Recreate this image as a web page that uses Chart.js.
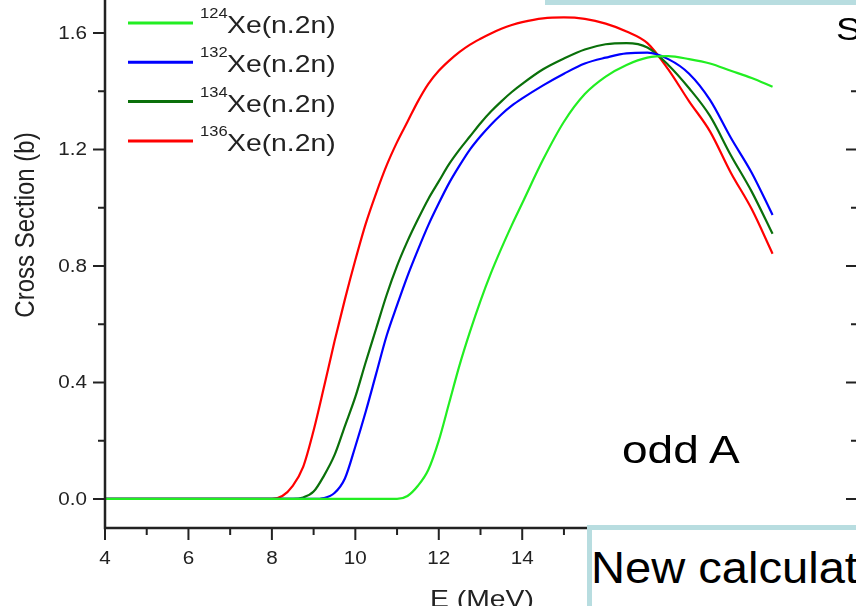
<!DOCTYPE html>
<html>
<head>
<meta charset="utf-8">
<script src="https://cdn.jsdelivr.net/npm/chart.js@4"></script>
<style>
  html, body { margin: 0; padding: 0; background: #fff; overflow: hidden; }
  #wrap { position: relative; width: 856px; height: 606px; overflow: hidden; font-family: "Liberation Sans", Arial, sans-serif; }
  #xs { position: absolute; left: 0; top: 0; }
  .slide { position: absolute; color: #000; white-space: nowrap; line-height: 1; transform-origin: 0 0; transform: scaleX(1.18); }
  .frame { position: absolute; border: 5px solid #b8dde0; background: #fff; }
</style>
</head>
<body>
<div id="wrap">
  <canvas id="xs" width="856" height="606"></canvas>
  <div class="frame" style="left:545px; top:-20px; width:400px; height:15px;"></div>
  <div class="slide" style="left:836px; top:13px; font-size:32px;">S</div>
  <div class="slide" style="left:622px; top:430px; font-size:39px;">odd A</div>
  <div class="frame" style="left:587px; top:525px; width:300px; height:120px;"></div>
  <div class="slide" style="left:591px; top:546px; font-size:44px; transform: scaleX(1.07);">New calculat</div>
</div>
<script>
// energy grid (MeV)
const energy = [4, 6, 8, 8.25, 8.5, 8.75, 9, 9.25, 9.5, 9.75, 10, 10.25, 10.5, 10.75, 11, 11.25, 11.5, 11.75,
  12, 12.25, 12.5, 12.75, 13, 13.25, 13.5, 13.75, 14, 14.5, 15, 15.5, 16, 16.5, 17, 17.5, 18, 18.5, 19, 19.5, 20];

// cross sections (b)
const xe124 = [0, 0, 0, 0, 0, 0, 0, 0, 0, 0, 0, 0, 0, 0, 0, 0.01, 0.045, 0.10,
  0.20, 0.33, 0.46, 0.575, 0.68, 0.775, 0.86, 0.94, 1.015, 1.165, 1.295, 1.39, 1.45, 1.49, 1.515, 1.52, 1.51, 1.495, 1.47, 1.445, 1.415];
const xe132 = [0, 0, 0, 0, 0, 0, 0, 0.003, 0.02, 0.07, 0.18, 0.30, 0.43, 0.56, 0.665, 0.765, 0.855, 0.94,
  1.015, 1.085, 1.145, 1.20, 1.245, 1.285, 1.32, 1.35, 1.375, 1.42, 1.46, 1.495, 1.515, 1.53, 1.532, 1.51, 1.46, 1.37, 1.24, 1.12, 0.975];
const xe134 = [0, 0, 0, 0, 0, 0.005, 0.025, 0.08, 0.15, 0.25, 0.35, 0.47, 0.585, 0.70, 0.80, 0.885, 0.96, 1.03,
  1.09, 1.15, 1.20, 1.245, 1.29, 1.33, 1.365, 1.397, 1.425, 1.475, 1.512, 1.543, 1.561, 1.565, 1.55, 1.49, 1.41, 1.315, 1.18, 1.055, 0.91];
const xe136 = [0, 0, 0, 0.01, 0.045, 0.11, 0.235, 0.385, 0.54, 0.685, 0.82, 0.945, 1.05, 1.145, 1.225, 1.295, 1.365, 1.425,
  1.47, 1.505, 1.535, 1.56, 1.58, 1.598, 1.614, 1.627, 1.637, 1.65, 1.653, 1.648, 1.632, 1.605, 1.565, 1.475, 1.365, 1.262, 1.12, 0.995, 0.842];

const massNumbers = ['124', '132', '134', '136'];
const colors = ['#22ee22', '#0000ff', '#0a700a', '#ff0000'];
const yMajor = [0, 0.4, 0.8, 1.2, 1.6];
const yMinor = [0.2, 0.6, 1.0, 1.4];
const xMajor = [4, 6, 8, 10, 12, 14, 16, 18, 20];
const xMinor = [5, 7, 9, 11, 13, 15, 17, 19, 21];

const SX = 1.18; // the slide picture is stretched sideways
const FONT = '"Liberation Sans", Arial, sans-serif';

function toPoints(vals) {
  return energy.map((e, i) => ({ x: e, y: vals[i] }));
}

function stretchText(ctx, txt, x, y, align) {
  ctx.save();
  ctx.translate(x, y);
  ctx.scale(SX, 1);
  ctx.textAlign = align;
  ctx.fillText(txt, 0, 0);
  ctx.restore();
}

const originAxes = {
  id: 'originAxes',
  afterDatasetsDraw(chart) {
    const ctx = chart.ctx;
    const xs = chart.scales.x;
    const ys = chart.scales.y;
    const left = chart.chartArea.left;
    const bottom = chart.chartArea.bottom;

    ctx.save();
    ctx.strokeStyle = '#222';
    ctx.lineWidth = 2.5;
    ctx.beginPath();
    ctx.moveTo(left, 0);
    ctx.lineTo(left, bottom);
    ctx.lineTo(chart.chartArea.right, bottom);
    ctx.stroke();

    ctx.lineWidth = 2;
    ctx.beginPath();
    yMajor.forEach(v => { const p = ys.getPixelForValue(v); ctx.moveTo(left - 12, p); ctx.lineTo(left, p); });
    yMinor.forEach(v => { const p = ys.getPixelForValue(v); ctx.moveTo(left - 7, p); ctx.lineTo(left, p); });
    xMajor.forEach(v => { const p = xs.getPixelForValue(v); ctx.moveTo(p, bottom); ctx.lineTo(p, bottom + 12); });
    xMinor.forEach(v => { const p = xs.getPixelForValue(v); ctx.moveTo(p, bottom); ctx.lineTo(p, bottom + 7); });
    // ticks of the neighbouring plot at the right edge
    yMajor.slice(0, 4).forEach(v => { const p = ys.getPixelForValue(v); ctx.moveTo(846, p); ctx.lineTo(856, p); });
    yMinor.forEach(v => { const p = ys.getPixelForValue(v); ctx.moveTo(851, p); ctx.lineTo(856, p); });
    ctx.stroke();

    ctx.fillStyle = '#222';
    ctx.font = '17.5px ' + FONT;
    ctx.textBaseline = 'middle';
    yMajor.forEach(v => stretchText(ctx, v.toFixed(1), left - 18, ys.getPixelForValue(v) + 1, 'right'));
    xMajor.forEach(v => stretchText(ctx, String(v), xs.getPixelForValue(v), bottom + 31, 'center'));

    ctx.font = '24px ' + FONT;
    ctx.save();
    ctx.translate(26, 225);
    ctx.scale(SX, 1);
    ctx.rotate(-Math.PI / 2);
    ctx.textAlign = 'center';
    ctx.fillText('Cross Section (b)', 0, 0);
    ctx.restore();

    ctx.textBaseline = 'alphabetic';
    stretchText(ctx, 'E (MeV)', 482, 607, 'center');

    // legend with superscript mass numbers
    chart.data.datasets.forEach((ds, i) => {
      const ly = 23 + i * 39.3;
      ctx.strokeStyle = ds.borderColor;
      ctx.lineWidth = 3;
      ctx.beginPath();
      ctx.moveTo(128, ly);
      ctx.lineTo(193, ly);
      ctx.stroke();
      ctx.fillStyle = '#222';
      ctx.font = '14px ' + FONT;
      stretchText(ctx, massNumbers[i], 200, ly - 5, 'left');
      ctx.font = '24px ' + FONT;
      stretchText(ctx, 'Xe(n.2n)', 227, ly + 10, 'left');
    });
    ctx.restore();
  }
};

new Chart(document.getElementById('xs').getContext('2d'), {
  type: 'line',
  data: {
    datasets: [
      { label: '¹²⁴Xe(n.2n)', data: toPoints(xe124), borderColor: colors[0] },
      { label: '¹³²Xe(n.2n)', data: toPoints(xe132), borderColor: colors[1] },
      { label: '¹³⁴Xe(n.2n)', data: toPoints(xe134), borderColor: colors[2] },
      { label: '¹³⁶Xe(n.2n)', data: toPoints(xe136), borderColor: colors[3] }
    ].map(ds => Object.assign(ds, {
      borderWidth: 2.2,
      pointRadius: 0,
      fill: false,
      cubicInterpolationMode: 'monotone'
    }))
  },
  options: {
    responsive: false,
    animation: false,
    layout: { padding: { left: 105, top: 0, right: 0, bottom: 78 } },
    scales: {
      x: { type: 'linear', min: 4, max: 22, display: false },
      y: { min: -0.1, max: 1.713, display: false }
    },
    plugins: {
      legend: { display: false },
      tooltip: { enabled: false }
    }
  },
  plugins: [originAxes]
});
</script>
</body>
</html>
